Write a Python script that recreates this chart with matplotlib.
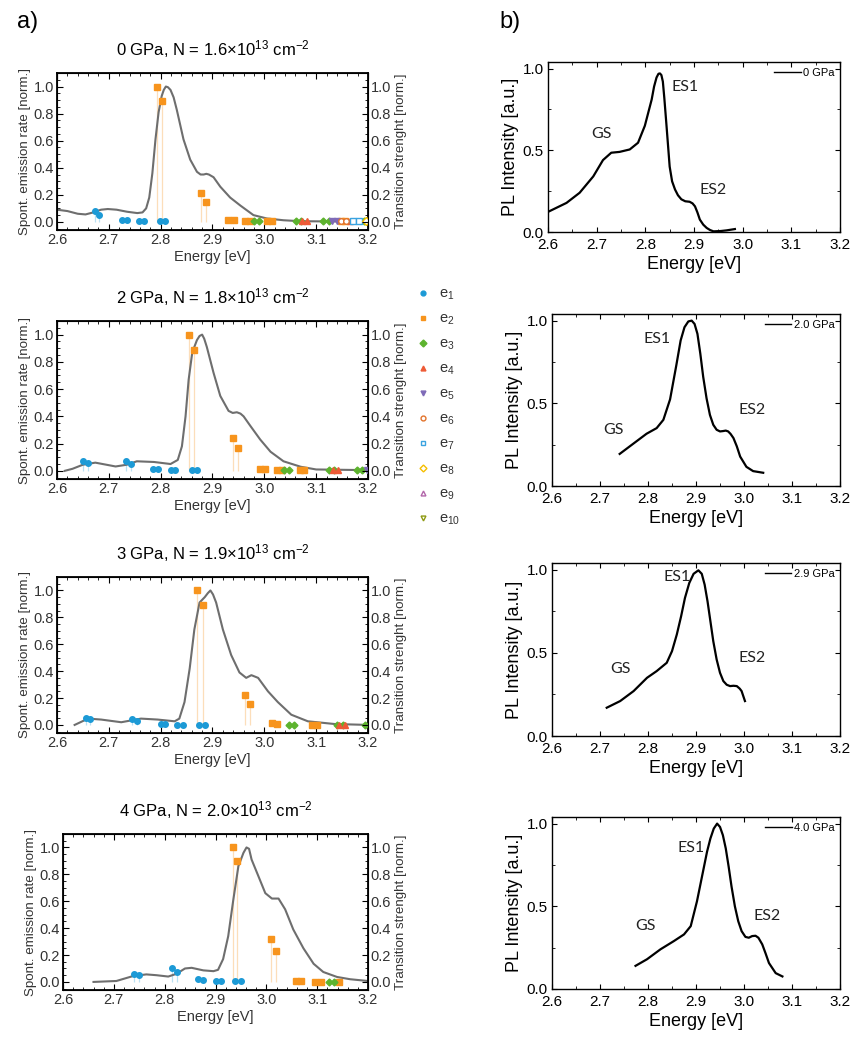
import matplotlib
matplotlib.use('Agg')
import matplotlib.pyplot as plt
from matplotlib.lines import Line2D
from matplotlib.ticker import MultipleLocator, FormatStrFormatter

plt.rcParams['font.family'] = ['Liberation Sans', 'DejaVu Sans']
plt.rcParams['mathtext.fontset'] = 'custom'
plt.rcParams['mathtext.rm'] = 'Liberation Sans'
plt.rcParams['mathtext.it'] = 'Liberation Sans:italic'

# ---------------------------------------------------------------------------
# a) simulated spontaneous emission (grey curve) + transition strengths
# ---------------------------------------------------------------------------
titles_a = ['0 GPa, N = 1.6×10$^{13}$ cm$^{-2}$',
            '2 GPa, N = 1.8×10$^{13}$ cm$^{-2}$',
            '3 GPa, N = 1.9×10$^{13}$ cm$^{-2}$',
            '4 GPa, N = 2.0×10$^{13}$ cm$^{-2}$']

sim0_E = [2.600, 2.620, 2.640, 2.655, 2.670, 2.685, 2.698, 2.715, 2.735, 2.755, 2.765,
          2.772, 2.778, 2.784, 2.790, 2.796, 2.802, 2.806, 2.810, 2.814, 2.819, 2.825,
          2.831, 2.844, 2.857, 2.870, 2.877, 2.883, 2.888, 2.893, 2.902, 2.915, 2.934,
          2.954, 2.979, 3.005, 3.037, 3.070, 3.134, 3.200]
sim0_I = [0.090, 0.080, 0.060, 0.055, 0.070, 0.090, 0.095, 0.090, 0.075, 0.065, 0.070,
          0.100, 0.180, 0.360, 0.610, 0.810, 0.930, 0.975, 1.000, 0.995, 0.975, 0.920,
          0.830, 0.610, 0.460, 0.370, 0.350, 0.350, 0.355, 0.350, 0.330, 0.260, 0.180,
          0.120, 0.050, 0.025, 0.012, 0.005, 0.003, 0.003]

sim2_E = [2.615, 2.630, 2.650, 2.674, 2.695, 2.713, 2.735, 2.754, 2.787, 2.819, 2.833,
          2.841, 2.848, 2.854, 2.861, 2.866, 2.870, 2.875, 2.880, 2.884, 2.889, 2.902,
          2.915, 2.931, 2.939, 2.947, 2.954, 2.960, 2.973, 2.992, 3.012, 3.037, 3.070,
          3.100, 3.200]
sim2_I = [0.000, 0.015, 0.045, 0.060, 0.045, 0.032, 0.045, 0.070, 0.065, 0.050, 0.080,
          0.180, 0.400, 0.670, 0.870, 0.920, 0.960, 0.990, 1.000, 0.970, 0.910, 0.720,
          0.550, 0.440, 0.425, 0.430, 0.420, 0.400, 0.330, 0.230, 0.140, 0.070, 0.030,
          0.010, 0.005]

sim3_E = [2.634, 2.660, 2.685, 2.724, 2.762, 2.794, 2.827, 2.836, 2.846, 2.856, 2.865,
          2.875, 2.885, 2.891, 2.896, 2.901, 2.907, 2.920, 2.936, 2.952, 2.965, 2.975,
          2.988, 3.007, 3.026, 3.052, 3.084, 3.135, 3.200]
sim3_I = [0.000, 0.047, 0.040, 0.020, 0.047, 0.040, 0.027, 0.047, 0.170, 0.420, 0.710,
          0.910, 0.950, 0.980, 1.000, 0.970, 0.910, 0.710, 0.520, 0.390, 0.350, 0.370,
          0.350, 0.250, 0.170, 0.076, 0.027, 0.007, 0.000]

sim4_E = [2.660, 2.705, 2.738, 2.764, 2.784, 2.807, 2.823, 2.840, 2.853, 2.876, 2.896,
          2.905, 2.915, 2.925, 2.935, 2.945, 2.955, 2.961, 2.966, 2.971, 2.984, 2.998,
          3.011, 3.024, 3.037, 3.053, 3.073, 3.093, 3.112, 3.139, 3.165, 3.200]
sim4_I = [0.000, 0.007, 0.044, 0.056, 0.050, 0.040, 0.060, 0.100, 0.105, 0.086, 0.080,
          0.090, 0.170, 0.340, 0.610, 0.860, 0.960, 1.000, 0.990, 0.910, 0.790, 0.660,
          0.620, 0.620, 0.540, 0.390, 0.250, 0.135, 0.074, 0.037, 0.020, 0.007]

# transition strengths (energy, strength) for each state e1..e8
t0_e1 = [(2.673, 0.077), (2.681, 0.054), (2.725, 0.017), (2.735, 0.017), (2.758, 0.010),
         (2.768, 0.010), (2.798, 0.005), (2.809, 0.005)]
t0_e2 = [(2.792, 1.0), (2.802, 0.89), (2.877, 0.21), (2.887, 0.15), (2.930, 0.012),
         (2.941, 0.012), (2.963, 0.005), (2.973, 0.005), (3.005, 0.005), (3.015, 0.005),
         (3.147, 0.003), (3.156, 0.003)]
t0_e3 = [(2.980, 0.003), (2.990, 0.003), (3.062, 0.003), (3.071, 0.003), (3.114, 0.003),
         (3.124, 0.003), (3.193, 0.003)]
t0_e4 = [(3.073, 0.003), (3.082, 0.003), (3.166, 0.003)]
t0_e5 = [(3.130, 0.005), (3.140, 0.005)]
t0_e6 = [(3.148, 0.003), (3.158, 0.003)]
t0_e7 = [(3.172, 0.003), (3.182, 0.003)]
t0_e8 = [(3.196, 0.003)]

t2_e1 = [(2.650, 0.070), (2.659, 0.060), (2.734, 0.070), (2.743, 0.047), (2.785, 0.010),
         (2.794, 0.010), (2.820, 0.005), (2.828, 0.005), (2.860, 0.005), (2.870, 0.005)]
t2_e2 = [(2.855, 1.0), (2.864, 0.89), (2.940, 0.24), (2.949, 0.17), (2.992, 0.012),
         (3.002, 0.012), (3.024, 0.003), (3.034, 0.003), (3.068, 0.003), (3.076, 0.003)]
t2_e3 = [(3.037, 0.003), (3.047, 0.003), (3.124, 0.003), (3.134, 0.003), (3.179, 0.003),
         (3.188, 0.003)]
t2_e4 = [(3.132, 0.003), (3.142, 0.003)]
t2_e5 = [(3.198, 0.003)]

t3_e1 = [(2.655, 0.050), (2.663, 0.047), (2.745, 0.047), (2.754, 0.027), (2.800, 0.008),
         (2.808, 0.008), (2.832, 0.003), (2.843, 0.003), (2.873, 0.003), (2.885, 0.003)]
t3_e2 = [(2.871, 1.0), (2.881, 0.89), (2.962, 0.22), (2.972, 0.155), (3.015, 0.012),
         (3.024, 0.010), (3.091, 0.002), (3.101, 0.002)]
t3_e3 = [(3.047, 0.002), (3.057, 0.002), (3.141, 0.002), (3.151, 0.002), (3.194, 0.002)]
t3_e4 = [(3.145, 0.002), (3.155, 0.002)]

t4_e1 = [(2.739, 0.057), (2.750, 0.054), (2.815, 0.100), (2.825, 0.074), (2.865, 0.020),
         (2.875, 0.015), (2.900, 0.005), (2.911, 0.005), (2.939, 0.005), (2.950, 0.005)]
t4_e2 = [(2.934, 1.0), (2.943, 0.90), (3.010, 0.32), (3.019, 0.23), (3.059, 0.008),
         (3.068, 0.006), (3.096, 0.002), (3.107, 0.002), (3.142, 0.002)]
t4_e3 = [(3.124, 0.002), (3.134, 0.002)]

state_labels = ['e$_1$', 'e$_2$', 'e$_3$', 'e$_4$', 'e$_5$',
                'e$_6$', 'e$_7$', 'e$_8$', 'e$_9$', 'e$_{10}$']

# ---------------------------------------------------------------------------
# b) measured PL spectra
# ---------------------------------------------------------------------------
pl_labels = ['0 GPa', '2.0 GPa', '2.9 GPa', '4.0 GPa']

pl0_E = [2.600, 2.638, 2.665, 2.693, 2.713, 2.730, 2.747, 2.768, 2.785, 2.799, 2.813,
         2.818, 2.823, 2.827, 2.830, 2.833, 2.836, 2.839, 2.843, 2.850, 2.855, 2.861,
         2.867, 2.874, 2.882, 2.891, 2.897, 2.902, 2.907, 2.912, 2.919, 2.926, 2.933,
         2.940, 2.955, 2.967, 2.984]
pl0_I = [0.123, 0.178, 0.240, 0.340, 0.440, 0.485, 0.490, 0.505, 0.546, 0.650, 0.810,
         0.890, 0.945, 0.968, 0.970, 0.960, 0.920, 0.820, 0.670, 0.400, 0.310, 0.260,
         0.225, 0.200, 0.188, 0.185, 0.175, 0.157, 0.120, 0.076, 0.045, 0.025, 0.012,
         0.004, 0.006, 0.010, 0.018]

pl2_E = [2.741, 2.769, 2.797, 2.818, 2.832, 2.846, 2.859, 2.868, 2.876, 2.884, 2.891,
         2.897, 2.903, 2.909, 2.915, 2.922, 2.929, 2.936, 2.943, 2.950, 2.956, 2.962,
         2.967, 2.972, 2.978, 2.985, 2.992, 3.005, 3.019, 3.040]
pl2_I = [0.194, 0.255, 0.316, 0.350, 0.400, 0.524, 0.730, 0.880, 0.960, 0.995, 1.000,
         0.980, 0.920, 0.800, 0.660, 0.530, 0.430, 0.370, 0.340, 0.330, 0.332, 0.335,
         0.330, 0.315, 0.290, 0.240, 0.178, 0.116, 0.090, 0.080]

pl3_E = [2.714, 2.742, 2.770, 2.798, 2.818, 2.839, 2.850, 2.860, 2.869, 2.877, 2.886,
         2.895, 2.905, 2.912, 2.918, 2.924, 2.929, 2.936, 2.943, 2.950, 2.957, 2.964,
         2.971, 2.978, 2.985, 2.991, 2.995, 3.002]
pl3_I = [0.170, 0.210, 0.270, 0.350, 0.390, 0.440, 0.510, 0.610, 0.720, 0.830, 0.920,
         0.975, 0.996, 0.975, 0.910, 0.810, 0.710, 0.570, 0.460, 0.380, 0.330, 0.308,
         0.300, 0.302, 0.300, 0.285, 0.270, 0.210]

pl4_E = [2.774, 2.798, 2.826, 2.854, 2.875, 2.889, 2.902, 2.916, 2.923, 2.930, 2.937,
         2.944, 2.950, 2.956, 2.962, 2.968, 2.974, 2.981, 2.988, 2.995, 3.003, 3.010,
         3.017, 3.024, 3.030, 3.038, 3.045, 3.052, 3.066, 3.080]
pl4_I = [0.140, 0.180, 0.240, 0.290, 0.330, 0.380, 0.530, 0.730, 0.830, 0.910, 0.970,
         1.000, 0.980, 0.930, 0.850, 0.740, 0.620, 0.500, 0.410, 0.350, 0.315, 0.310,
         0.320, 0.322, 0.310, 0.270, 0.215, 0.157, 0.096, 0.076]

# peak label positions (energy, intensity) for GS, ES1, ES2
pk0 = [(2.710, 0.60), (2.881, 0.89), (2.940, 0.26)]
pk2 = [(2.727, 0.34), (2.818, 0.89), (3.016, 0.46)]
pk3 = [(2.742, 0.40), (2.860, 0.955), (3.016, 0.47)]
pk4 = [(2.795, 0.38), (2.889, 0.85), (3.049, 0.44)]
pk_names = ['GS', 'ES1', 'ES2']

# ---------------------------------------------------------------------------
colors = ['#1C9AD6', '#F7941D', '#5DB32E', '#EE5A36', '#7F6BB8',
          '#E2732C', '#3AA3E0', '#F5BE00', '#B266AA', '#8E9A12']
markers = ['o', 's', 'D', '^', 'v', 'o', 's', 'D', '^', 'v']
filled = [True] * 5 + [False] * 5

sims = [(sim0_E, sim0_I, [t0_e1, t0_e2, t0_e3, t0_e4, t0_e5, t0_e6, t0_e7, t0_e8]),
        (sim2_E, sim2_I, [t2_e1, t2_e2, t2_e3, t2_e4, t2_e5]),
        (sim3_E, sim3_I, [t3_e1, t3_e2, t3_e3, t3_e4]),
        (sim4_E, sim4_I, [t4_e1, t4_e2, t4_e3])]
pls = [(pl0_E, pl0_I, pk0), (pl2_E, pl2_I, pk2), (pl3_E, pl3_I, pk3), (pl4_E, pl4_I, pk4)]

W, H = 851, 1041
fig = plt.figure(figsize=(W / 100, H / 100), dpi=100)

def box(l, t, r, b):
    return [l / W, 1 - b / H, (r - l) / W, (b - t) / H]

left_boxes = [box(57, 73, 368, 230), box(57, 321, 368, 479),
              box(57, 577, 368, 733), box(63, 834, 368, 990)]
right_boxes = [box(548, 62, 840, 232), box(552, 314, 840, 486),
               box(552, 563, 840, 736), box(552, 817, 840, 989)]

for i, (E, I, trans) in enumerate(sims):
    ax = fig.add_axes(left_boxes[i])
    for k, pts in enumerate(trans):
        xs = [p[0] for p in pts]
        ys = [p[1] for p in pts]
        ax.vlines(xs, 0, ys, color=colors[k], lw=0.9, alpha=0.3, zorder=1)
        ax.plot(xs, ys, ls='none', marker=markers[k], ms=4 if k != 2 else 3.5,
                color=colors[k], mfc=colors[k] if filled[k] else 'white',
                mew=1.0, zorder=3)
    ax.plot(E, I, color='#6E6E6E', lw=1.5, zorder=2)
    ax.set_xlim(2.6, 3.2)
    ax.set_ylim(-0.06, 1.1)
    ax.xaxis.set_major_locator(MultipleLocator(0.1))
    ax.xaxis.set_minor_locator(MultipleLocator(0.02))
    ax.yaxis.set_major_locator(MultipleLocator(0.2))
    ax.yaxis.set_minor_locator(MultipleLocator(0.05))
    ax.xaxis.set_major_formatter(FormatStrFormatter('%.1f'))
    ax.yaxis.set_major_formatter(FormatStrFormatter('%.1f'))
    ax.tick_params(which='both', direction='in', top=True, labelsize=10.5, pad=2,
                   labelcolor='#333333')
    ax.tick_params(which='major', length=4, width=0.8)
    ax.tick_params(which='minor', length=2, width=0.6)
    for s in ax.spines.values():
        s.set_linewidth(1.3)
    ax.set_xlabel('Energy [eV]', fontsize=10.5, labelpad=2, color='#333333')
    ax.set_ylabel('Spont. emission rate [norm.]', fontsize=9.6, labelpad=2, color='#333333')
    ax.set_title(titles_a[i], fontsize=12, pad=13)
    ax2 = ax.twinx()
    ax2.set_ylim(-0.06, 1.1)
    ax2.yaxis.set_major_locator(MultipleLocator(0.2))
    ax2.yaxis.set_minor_locator(MultipleLocator(0.05))
    ax2.yaxis.set_major_formatter(FormatStrFormatter('%.1f'))
    ax2.tick_params(which='both', direction='in', labelsize=10.5, pad=2, labelcolor='#333333')
    ax2.tick_params(which='major', length=4, width=0.8)
    ax2.tick_params(which='minor', length=2, width=0.6)
    ax2.set_ylabel('Transition strenght [norm.]', fontsize=9.6, labelpad=3, color='#333333')

# states legend between the columns
handles = [Line2D([], [], ls='none', marker=markers[k], ms=3.5, color=colors[k],
                  mfc=colors[k] if filled[k] else 'white', mew=1.0, label=state_labels[k])
           for k in range(10)]
fig.legend(handles=handles, loc='upper left', bbox_to_anchor=(410 / W, 1 - 281 / H),
           frameon=False, fontsize=10.5, labelspacing=0.66, handlelength=1.0,
           handletextpad=0.6, borderaxespad=0, labelcolor='#333333')

for i, (E, I, pk) in enumerate(pls):
    ax = fig.add_axes(right_boxes[i])
    ax.plot(E, I, color='black', lw=1.6, label=pl_labels[i])
    for (x, y), name in zip(pk, pk_names):
        ax.text(x, y, name, fontsize=11.5, family=['Lato', 'DejaVu Sans'],
                ha='center', va='center', color='#222222')
    ax.set_xlim(2.6, 3.2)
    ax.set_ylim(0, 1.04)
    ax.xaxis.set_major_locator(MultipleLocator(0.1))
    ax.xaxis.set_minor_locator(MultipleLocator(0.05))
    ax.yaxis.set_major_locator(MultipleLocator(0.5))
    ax.yaxis.set_minor_locator(MultipleLocator(0.25))
    ax.xaxis.set_major_formatter(FormatStrFormatter('%.1f'))
    ax.yaxis.set_major_formatter(FormatStrFormatter('%.1f'))
    ax.tick_params(which='both', direction='in', top=True, right=True, labelsize=11)
    ax.tick_params(axis='x', pad=4)
    ax.tick_params(axis='y', pad=3)
    ax.tick_params(which='major', length=3.5, width=0.8)
    ax.tick_params(which='minor', length=2, width=0.6)
    for s in ax.spines.values():
        s.set_linewidth(1.0)
    ax.set_xlabel('Energy [eV]', fontsize=13, labelpad=3)
    ax.set_ylabel('PL Intensity [a.u.]', fontsize=13, labelpad=3)
    leg = ax.legend(loc='upper right', frameon=False, fontsize=8, handlelength=2.4,
                    handletextpad=0.2, borderaxespad=0.4, borderpad=0.1)
    for ln in leg.get_lines():
        ln.set_linewidth(1.0)

fig.text(28 / W, 1 - 22 / H, 'a)', fontsize=17, ha='center', va='center')
fig.text(510 / W, 1 - 22 / H, 'b)', fontsize=17, ha='center', va='center')

fig.savefig('out.png', dpi=100)
